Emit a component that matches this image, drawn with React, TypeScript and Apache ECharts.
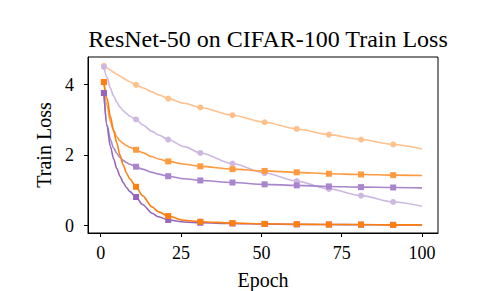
import React, { useEffect, useRef } from "react";
import * as echarts from "echarts";

const TITLE = "ResNet-50 on CIFAR-100 Train Loss";
const X_NAME = "Epoch";
const Y_NAME = "Train Loss";
const X_TICKS = [0, 25, 50, 75, 100];
const Y_TICKS = [0, 2, 4];

const epochs = [1, 2, 3, 4, 5, 6, 7, 8, 9, 11, 13, 16, 18, 21, 26, 31, 41, 51, 61, 71, 81, 91, 100];
const markerEpochs = [1, 11, 21, 31, 41, 51, 61, 71, 81, 91];

const lightOrange = [4.53, 4.47, 4.41, 4.35, 4.29, 4.24, 4.18, 4.13, 4.08, 3.99, 3.91, 3.79, 3.71, 3.6, 3.47, 3.35, 3.13, 2.93, 2.74, 2.58, 2.44, 2.3, 2.17];
const lightPurple = [4.5, 4.2, 3.9, 3.68, 3.5, 3.36, 3.26, 3.18, 3.1, 3.01, 2.86, 2.67, 2.57, 2.44, 2.24, 2.06, 1.76, 1.49, 1.26, 1.04, 0.85, 0.67, 0.55];
const midOrange = [4.07, 3.4, 2.95, 2.7, 2.52, 2.4, 2.33, 2.27, 2.22, 2.15, 2.07, 1.95, 1.89, 1.82, 1.74, 1.68, 1.6, 1.55, 1.51, 1.47, 1.45, 1.43, 1.42];
const midPurple = [3.76, 2.85, 2.45, 2.2, 2.05, 1.93, 1.85, 1.79, 1.74, 1.67, 1.6, 1.51, 1.46, 1.4, 1.33, 1.28, 1.22, 1.17, 1.14, 1.11, 1.09, 1.08, 1.07];
const brightOrange = [4.07, 3.6, 3.1, 2.7, 2.35, 2.0, 1.72, 1.5, 1.33, 1.1, 0.85, 0.53, 0.39, 0.27, 0.15, 0.11, 0.07, 0.05, 0.04, 0.03, 0.03, 0.02, 0.02];
const brightPurple = [3.76, 2.8, 2.25, 1.9, 1.62, 1.4, 1.22, 1.08, 0.97, 0.81, 0.6, 0.35, 0.25, 0.16, 0.1, 0.08, 0.06, 0.045, 0.035, 0.03, 0.025, 0.02, 0.02];

const FONT = "Liberation Serif";

export default function App() {
  const ref = useRef<HTMLDivElement>(null);
  useEffect(() => {
    if (!ref.current) return;
    const chart = echarts.init(ref.current, null, { renderer: "svg" });
    const mk = (name: string, vals: number[], color: string, symbol: string, z: number) => ({
      name,
      type: "line",
      data: epochs.map((e, i) => [e, vals[i]]),
      smooth: 0.3,
      smoothMonotone: "x",
      symbol: (v: number[]) => (markerEpochs.includes(v[0]) ? symbol : "none"),
      symbolSize: 6,
      showAllSymbol: true,
      lineStyle: { color, width: 1.6 },
      itemStyle: { color, borderWidth: 0 },
      z,
    });
    chart.setOption({
      animation: false,
      title: {
        text: TITLE,
        left: 263,
        top: 22,
        textAlign: "center",
        textStyle: { fontFamily: FONT, fontSize: 24, fontWeight: "normal", color: "#000" },
      },
      grid: {
        left: 88,
        right: 65,
        top: 57,
        bottom: 58,
        containLabel: false,
        outerBoundsMode: "none",
        show: true,
        borderColor: "#000",
        borderWidth: 1,
        backgroundColor: "transparent",
      },
      xAxis: {
        type: "value",
        min: -3.95,
        max: 104.95,
        name: X_NAME,
        nameLocation: "middle",
        nameGap: 37,
        nameTextStyle: { fontFamily: FONT, fontSize: 20, color: "#000" },
        axisLine: { show: true, onZero: false, lineStyle: { color: "#000", width: 1 } },
        axisTick: { show: true, customValues: X_TICKS, length: 4, lineStyle: { color: "#000" } },
        axisLabel: { customValues: X_TICKS, fontFamily: FONT, fontSize: 18, color: "#000", margin: 11 },
        splitLine: { show: false },
      },
      yAxis: {
        type: "value",
        min: -0.21,
        max: 4.78,
        name: Y_NAME,
        nameLocation: "middle",
        nameGap: 34,
        nameTextStyle: { fontFamily: FONT, fontSize: 20, color: "#000" },
        axisLine: { show: true, onZero: false, lineStyle: { color: "#000", width: 1 } },
        axisTick: { show: true, customValues: Y_TICKS, length: 4, lineStyle: { color: "#000" } },
        axisLabel: { customValues: Y_TICKS, fontFamily: FONT, fontSize: 18, color: "#000", margin: 14 },
        splitLine: { show: false },
      },
      series: [
        mk("light orange", lightOrange, "#ffc08c", "circle", 1),
        mk("light purple", lightPurple, "#cdb8e2", "circle", 1),
        mk("mid orange", midOrange, "#ff9a40", "rect", 2),
        mk("mid purple", midPurple, "#a885cc", "rect", 2),
        mk("bright purple", brightPurple, "#9467bd", "rect", 3),
        mk("bright orange", brightOrange, "#ff7f0e", "rect", 3),
      ],
    });
    return () => chart.dispose();
  }, []);
  return (
    <div
      ref={ref}
      style={{ position: "fixed", left: 0, top: 0, width: 503, height: 291, background: "#fff" }}
    />
  );
}
